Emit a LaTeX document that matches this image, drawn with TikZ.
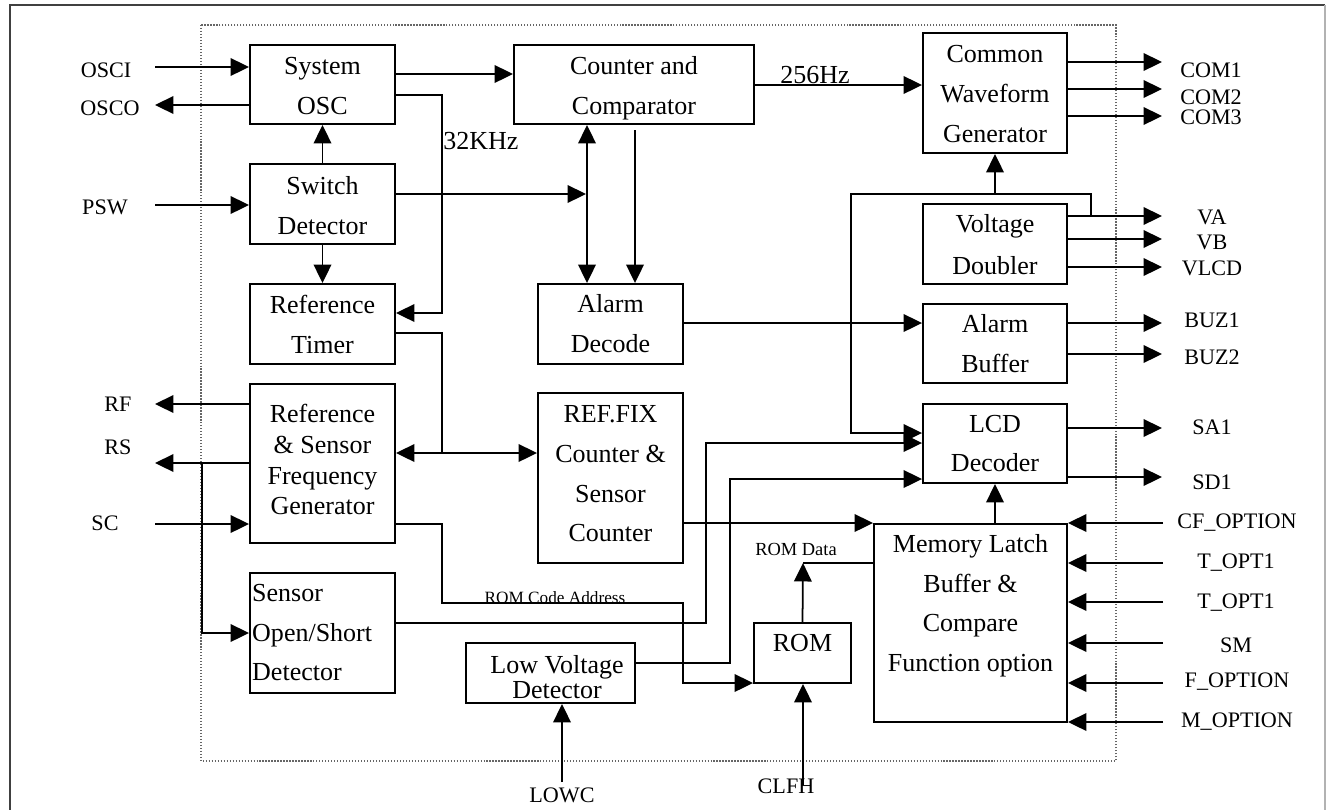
\documentclass[tikz,border=0pt]{standalone}
\usepackage{fontspec}
\setmainfont{Liberation Serif}
\usetikzlibrary{arrows.meta,fit}
% block caption: width, first-baseline drop from the top edge, lines
\newcommand{\boxlines}[3]{\parbox[t]{#1}{\centering\rule{0pt}{#2}#3}}
\begin{document}
\begin{tikzpicture}[x=0.02cm,y=-0.02cm,
  blk/.style={draw,line width=1.1pt,inner sep=0pt},
  btxt/.style={anchor=north,inner sep=0pt,
    font=\fontsize{14.8pt}{22.7pt}\selectfont},
  lbl/.style={inner sep=0pt,font=\fontsize{12.6pt}{15pt}\selectfont},
  freq/.style={inner sep=0pt,font=\fontsize{14.8pt}{18pt}\selectfont},
  bus/.style={inner sep=0pt,font=\fontsize{10.5pt}{12pt}\selectfont},
  wire/.style={line width=1pt},
  arr/.style={wire,-{Triangle[length=10.5pt,width=10pt]}},
  dbl/.style={wire,{Triangle[length=10.5pt,width=10pt]}-{Triangle[length=10.5pt,width=10pt]}},
]
\useasboundingbox (0,0) rectangle (1328,809);

% outer frame and chip boundary
\draw[black!75,line width=0.7pt] (10,812) -- (10,5) -- (1325,5);
\draw[black!30,line width=0.7pt] (1325,5) -- (1325,812);
\draw[black!60,densely dotted,line width=0.7pt] (201,25) rectangle (1116,761);

% blocks
\node[blk,fit={(250,45) (395,124)}] (sys) {};
\node[blk,fit={(250,164) (395,244)}] (sw) {};
\node[blk,fit={(250,284) (395,364)}] (rt) {};
\node[blk,fit={(250,384) (395,543)}] (rsf) {};
\node[blk,fit={(250,573) (395,693)}] (sen) {};
\node[blk,fit={(514,45) (754,124)}] (ctr) {};
\node[blk,fit={(538,284) (683,364)}] (al) {};
\node[blk,fit={(538,393) (683,563)}] (rf) {};
\node[blk,fit={(923,33) (1067,153)}] (cwg) {};
\node[blk,fit={(923,204) (1067,284)}] (vd) {};
\node[blk,fit={(923,304) (1067,383)}] (ab) {};
\node[blk,fit={(923,404) (1067,483)}] (lcd) {};
\node[blk,fit={(874,524) (1067,722)}] (ml) {};
\node[blk,fit={(754,623) (851,683)}] (rom) {};
\node[blk,fit={(466,643) (635,703)}] (lvd) {};

% block captions
\node[btxt] (sysT) at (sys.north) {\boxlines{82pt}{17pt}{System\\OSC}};
\node[btxt] (swT) at (sw.north) {\boxlines{82pt}{17.6pt}{Switch\\Detector}};
\node[btxt] (rtT) at (rt.north) {\boxlines{82pt}{17pt}{Reference\\Timer}};
\node[btxt,font=\fontsize{14.8pt}{17.6pt}\selectfont] (rsfT) at (rsf.north)
  {\boxlines{82pt}{22.1pt}{Reference\\\& Sensor\\Frequency\\Generator}};
\node[btxt] (senT) at (sen.north)
  {\parbox[t]{80pt}{\raggedright\rule{0pt}{16.4pt}Sensor\\Open/Short\\Detector}};
\node[btxt] (ctrT) at (ctr.north) {\boxlines{136pt}{17pt}{Counter and\\Comparator}};
\node[btxt] (alT) at (al.north) {\boxlines{82pt}{16.4pt}{Alarm\\Decode}};
\node[btxt] (rfT) at (rf.north) {\boxlines{82pt}{17pt}{REF.FIX\\Counter \&\\Sensor\\Counter}};
\node[btxt] (cwgT) at (cwg.north) {\boxlines{81.6pt}{17pt}{Common\\Waveform\\Generator}};
\node[btxt,font=\fontsize{14.8pt}{23.8pt}\selectfont] (vdT) at (vd.north)
  {\boxlines{81.6pt}{16.4pt}{Voltage\\Doubler}};
\node[btxt] (abT) at (ab.north) {\boxlines{81.6pt}{16.4pt}{Alarm\\Buffer}};
\node[btxt,font=\fontsize{14.8pt}{22.1pt}\selectfont] (lcdT) at (lcd.north)
  {\boxlines{81.6pt}{16.4pt}{LCD\\Decoder}};
\node[btxt] (mlT) at (ml.north)
  {\boxlines{109pt}{16.4pt}{Memory Latch\\Buffer \&\\Compare\\Function option}};
\node[btxt] (romT) at (rom.north) {\boxlines{55pt}{16.4pt}{ROM}};
\node[btxt,font=\fontsize{14.8pt}{14.2pt}\selectfont] (lvdT) at (557,643)
  {\boxlines{96pt}{17pt}{Low Voltage\\Detector}};

% left pins
\coordinate (osciP) at (155,67);
\coordinate (oscoP) at (155,105);
\coordinate (pswP) at (155,205);
\coordinate (rfP) at (155,404);
\coordinate (rsP) at (155,463);
\coordinate (scP) at (155,524);
\coordinate (rsJ) at (202,463);
\coordinate (senIn) at (202,633);
\draw[arr] (osciP) -- (osciP -| sys.west);
\draw[arr] (oscoP -| sys.west) -- (oscoP);
\draw[arr] (pswP) -- (pswP -| sw.west);
\draw[arr] (rfP -| rsf.west) -- (rfP);
\draw[arr] (rsP -| rsf.west) -- (rsP);
\draw[arr] (scP) -- (scP -| rsf.west);
\draw[arr] (rsJ) -- (senIn) -- (senIn -| sen.west);
\node[lbl] (tOSCI) at (106,70) {OSCI};
\node[lbl] (tOSCO) at (110,108) {OSCO};
\node[lbl] (tPSW) at (105,207) {PSW};
\node[lbl] (tRF) at (118,404) {RF};
\node[lbl] (tRS) at (118,447) {RS};
\node[lbl] (tSC) at (105,523) {SC};

% oscillator and switch detector
\coordinate (c1) at (0,74);
\draw[arr] (c1 -| sys.east) -- (c1 -| ctr.west);
\coordinate (k1) at (442,95);
\coordinate (k2) at (442,313);
\draw[arr] (k1 -| sys.east) -- (k1) -- (k2) -- (k2 -| rt.east);
\node[freq,anchor=base west] (t32) at (443,149) {32KHz};
\draw[arr] (sw.north) -- (sys.south);
\draw[arr] (sw.south) -- (rt.north);
\coordinate (b1) at (586,194);
\draw[arr] (b1 -| sw.east) -- (b1);
\coordinate (b0) at (587,0);
\draw[dbl] (b0 |- ctr.south) -- (b0 |- al.north);
\coordinate (b2) at (635,130);
\draw[arr] (b2) -- (b2 |- al.north);
\coordinate (h256) at (0,85);
\draw[arr] (h256 -| ctr.east) -- (h256 -| cwg.west);
\node[freq,anchor=base] (t256) at (815,83) {256Hz};

% reference timer and frequency generator
\coordinate (r1) at (442,333);
\coordinate (r2) at (442,453);
\draw[wire] (r1 -| rt.east) -- (r1) -- (r2);
\draw[dbl] (r2 -| rsf.east) -- (r2 -| rf.west);
\coordinate (a1) at (442,524);
\coordinate (a2) at (442,603);
\coordinate (a3) at (683,603);
\coordinate (a4) at (683,683);
\draw[arr] (a1 -| rsf.east) -- (a1) -- (a2) -- (a3) -- (a4) -- (a4 -| rom.west);
\node[bus,anchor=base,font=\fontsize{9.8pt}{12pt}\selectfont] (tRCA) at (555,603) {ROM Code Address};

% sensor and low voltage paths to the LCD decoder
\coordinate (s1) at (706,623);
\coordinate (s2) at (706,443);
\draw[arr] (s1 -| sen.east) -- (s1) -- (s2) -- (s2 -| lcd.west);
\coordinate (v1) at (730,663);
\coordinate (v2) at (730,479);
\draw[arr] (v1 -| lvd.east) -- (v1) -- (v2) -- (v2 -| lcd.west);

% bottom pins
\coordinate (lw) at (562,782);
\draw[arr] (lw) -- (lw |- lvd.south);
\node[lbl] (tLOWC) at (562,795) {LOWC};
\coordinate (cl) at (803,785);
\draw[arr] (cl) -- (cl |- rom.south);
\node[lbl] (tCLFH) at (786,786) {CLFH};

% ROM data and memory latch
\coordinate (d1) at (803,563);
\draw[arr] (rom.north) -- (d1);
\draw[wire] (d1) -- (d1 -| ml.west);
\node[bus,anchor=base] (tRD) at (796,555) {ROM Data};
\coordinate (f1) at (0,523);
\draw[arr] (f1 -| rf.east) -- (f1 -| ml.west);
\draw[arr] (lcd.south |- ml.north) -- (lcd.south);

% alarm
\coordinate (al1) at (0,323);
\draw[arr] (al1 -| al.east) -- (al1 -| ab.west);

% voltage doubler supply bus
\coordinate (v0) at (851,194);
\coordinate (vj) at (1091,194);
\coordinate (vaJ) at (1091,216);
\coordinate (lcdIn) at (851,433);
\draw[arr] (vaJ) -- (vj) -- (v0) -- (lcdIn) -- (lcdIn -| lcd.west);
\draw[arr] (cwg.south |- v0) -- (cwg.south);

% right outputs
\coordinate (oC1) at (1162,62);
\coordinate (oC2) at (1162,89);
\coordinate (oC3) at (1162,116);
\coordinate (oVA) at (1162,216);
\coordinate (oVB) at (1162,239);
\coordinate (oVL) at (1162,267);
\coordinate (oB1) at (1162,323);
\coordinate (oB2) at (1162,354);
\coordinate (oSA) at (1162,428);
\coordinate (oSD) at (1162,477);
\draw[arr] (oC1 -| cwg.east) -- (oC1);
\draw[arr] (oC2 -| cwg.east) -- (oC2);
\draw[arr] (oC3 -| cwg.east) -- (oC3);
\draw[arr] (oVA -| vd.east) -- (oVA);
\draw[arr] (oVB -| vd.east) -- (oVB);
\draw[arr] (oVL -| vd.east) -- (oVL);
\draw[arr] (oB1 -| ab.east) -- (oB1);
\draw[arr] (oB2 -| ab.east) -- (oB2);
\draw[arr] (oSA -| lcd.east) -- (oSA);
\draw[arr] (oSD -| lcd.east) -- (oSD);
\node[lbl] (tC1) at (1211,70) {COM1};
\node[lbl] (tC2) at (1211,97) {COM2};
\node[lbl] (tC3) at (1211,117) {COM3};
\node[lbl] (tVA) at (1212,217) {VA};
\node[lbl] (tVB) at (1212,242) {VB};
\node[lbl] (tVL) at (1212,268) {VLCD};
\node[lbl] (tB1) at (1212,320) {BUZ1};
\node[lbl] (tB2) at (1212,357) {BUZ2};
\node[lbl] (tSA) at (1212,427) {SA1};
\node[lbl] (tSD) at (1212,482) {SD1};

% right option inputs
\coordinate (iCF) at (1163,523);
\coordinate (iT1) at (1163,563);
\coordinate (iT2) at (1163,602);
\coordinate (iSM) at (1163,643);
\coordinate (iF) at (1163,683);
\coordinate (iM) at (1163,722);
\draw[arr] (iCF) -- (iCF -| ml.east);
\draw[arr] (iT1) -- (iT1 -| ml.east);
\draw[arr] (iT2) -- (iT2 -| ml.east);
\draw[arr] (iSM) -- (iSM -| ml.east);
\draw[arr] (iF) -- (iF -| ml.east);
\draw[arr] (iM) -- (iM -| ml.east);
\node[lbl] (tCF) at (1237,523) {CF\_OPTION};
\node[lbl] (tT1) at (1236,563) {T\_OPT1};
\node[lbl] (tT2) at (1236,603) {T\_OPT1};
\node[lbl] (tSM) at (1236,645) {SM};
\node[lbl] (tF) at (1237,682) {F\_OPTION};
\node[lbl] (tM) at (1237,722) {M\_OPTION};
\end{tikzpicture}
\end{document}
